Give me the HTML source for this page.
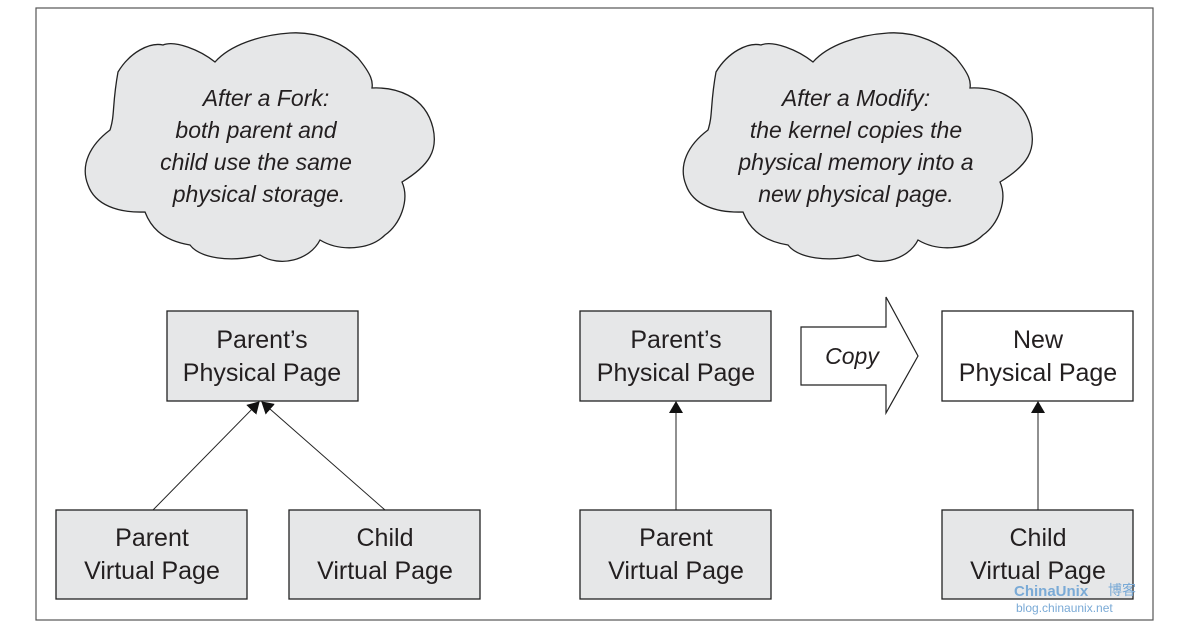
<!DOCTYPE html>
<html><head><style>
body{margin:0;background:#fff;}
svg{display:block;font-family:"Liberation Sans",sans-serif;}
.b{fill:#e6e7e8;stroke:#222;stroke-width:1.3}
.t{font-size:25px;fill:#231f20;text-anchor:middle}
.c{font-size:23px;font-style:italic;fill:#231f20;text-anchor:middle}
</style></head><body>
<svg width="1187" height="642" viewBox="0 0 1187 642">
<defs><marker id="a" markerWidth="12" markerHeight="14" refX="11" refY="7" orient="auto" markerUnits="userSpaceOnUse"><path d="M0,0 L12,7 L0,14 z" fill="#111"/></marker></defs>
<rect x="36" y="8" width="1117" height="612" fill="#fff" stroke="#555" stroke-width="1.2"/>
<g id="cl">
<path class="b" d="M118,72 C130,52 150,42 163,45 C175,40 200,50 215,62 C230,45 260,35 290,33 C320,31 345,45 358,58 C372,75 373,82 372,88 C395,87 425,95 433,128 C438,150 430,165 402,182 C410,200 400,225 385,235 C370,250 340,252 320,240 C310,260 280,268 260,255 C230,263 200,258 190,245 C160,240 150,225 145,212 C118,213 95,205 88,185 C80,165 90,145 110,130 C115,115 112,105 118,72 Z"/>
</g>
<use href="#cl" transform="translate(598,0)"/>
<text class="c" x="266" y="106">After a Fork:</text>
<text class="c" x="256" y="138">both parent and</text>
<text class="c" x="256" y="170">child use the same</text>
<text class="c" x="259" y="202">physical storage.</text>
<text class="c" x="856" y="106">After a Modify:</text>
<text class="c" x="856" y="138">the kernel copies the</text>
<text class="c" x="856" y="170">physical memory into a</text>
<text class="c" x="856" y="202">new physical page.</text>

<rect class="b" x="167" y="311" width="191" height="90"/>
<text class="t" x="262" y="348">Parent’s</text><text class="t" x="262" y="381">Physical Page</text>
<rect class="b" x="56" y="510" width="191" height="89"/>
<text class="t" x="152" y="546">Parent</text><text class="t" x="152" y="579">Virtual Page</text>
<rect class="b" x="289" y="510" width="191" height="89"/>
<text class="t" x="385" y="546">Child</text><text class="t" x="385" y="579">Virtual Page</text>
<rect class="b" x="580" y="311" width="191" height="90"/>
<text class="t" x="676" y="348">Parent’s</text><text class="t" x="676" y="381">Physical Page</text>
<rect class="b" x="580" y="510" width="191" height="89"/>
<text class="t" x="676" y="546">Parent</text><text class="t" x="676" y="579">Virtual Page</text>
<rect x="942" y="311" width="191" height="90" fill="#fff" stroke="#222" stroke-width="1.3"/>
<text class="t" x="1038" y="348">New</text><text class="t" x="1038" y="381">Physical Page</text>
<rect class="b" x="942" y="510" width="191" height="89"/>
<text class="t" x="1038" y="546">Child</text><text class="t" x="1038" y="579">Virtual Page</text>

<path d="M801,327 L886,327 L886,297 L918,356 L886,413 L886,385 L801,385 Z" fill="#fff" stroke="#222" stroke-width="1.2"/>
<text class="c" x="852" y="364">Copy</text>

<g stroke="#222" stroke-width="1" fill="none">
<line x1="153" y1="510" x2="259" y2="402" marker-end="url(#a)"/>
<line x1="385" y1="510" x2="262" y2="402" marker-end="url(#a)"/>
<line x1="676" y1="510" x2="676" y2="402" marker-end="url(#a)"/>
<line x1="1038" y1="510" x2="1038" y2="402" marker-end="url(#a)"/>
</g>
<text x="1014" y="596" font-size="15" font-weight="bold" fill="#7aaad6">ChinaUnix</text>
<text x="1108" y="595" font-size="14" fill="#7aaad6" font-family="Noto Sans CJK SC,sans-serif">博客</text>
<text x="1016" y="612" font-size="12" fill="#7aaad6">blog.chinaunix.net</text>
</svg>
</body></html>
